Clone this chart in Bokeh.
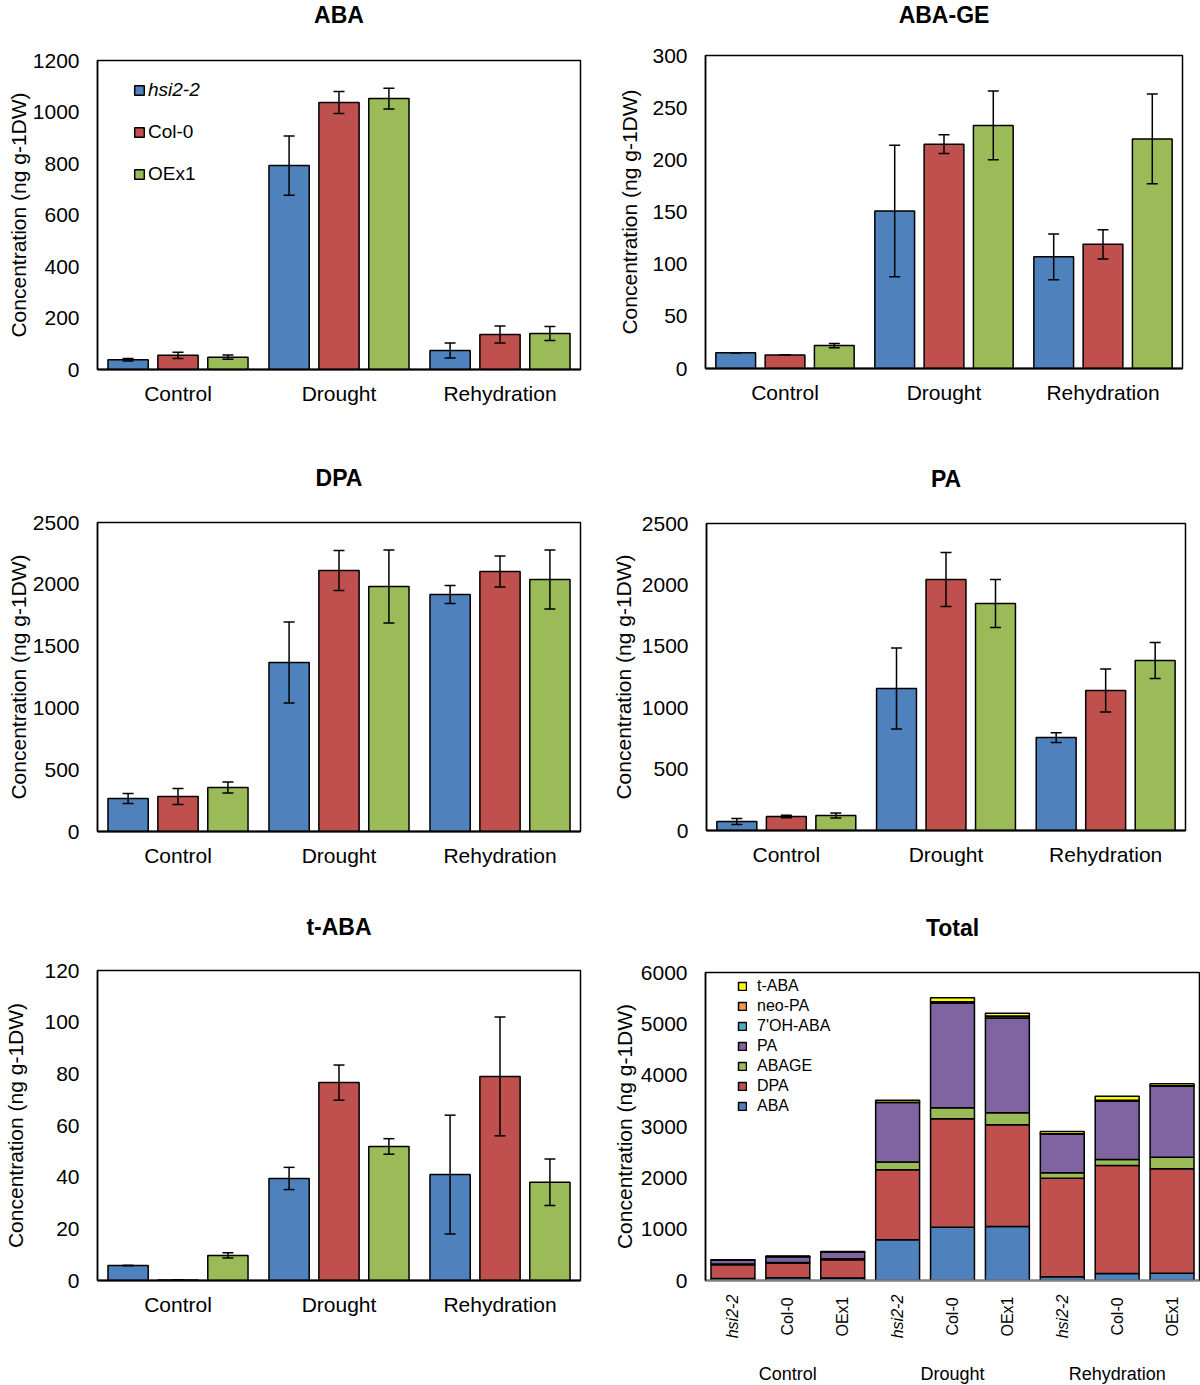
import math
from bokeh.plotting import figure
from bokeh.models import (ColumnDataSource, FactorRange, Range1d, Whisker, TeeHead,
                          Legend, LegendItem, FixedTicker)
from bokeh.transform import dodge
from bokeh.layouts import column, row
from bokeh.embed import file_html
from bokeh.resources import INLINE
from bokeh.core.properties import value

FONT = "Liberation Sans"
YLABEL = "Concentration (ng g-1DW)"

conditions = ["Control", "Drought", "Rehydration"]
genotypes = ["hsi2-2", "Col-0", "OEx1"]
genotype_colors = ["#4F81BD", "#C0504D", "#9BBB59"]

# ---- ABA ----
aba_hsi = [38, 792, 74]
aba_col = [55, 1037, 136]
aba_oex = [48, 1052, 140]
aba_hsi_err = [5, 115, 29]
aba_col_err = [12, 43, 33]
aba_oex_err = [8, 40, 27]
aba_ticks = [0, 200, 400, 600, 800, 1000, 1200]

# ---- ABA-GE ----
abage_hsi = [15, 151, 107]
abage_col = [13, 215, 119]
abage_oex = [22, 233, 220]
abage_hsi_err = [0, 63, 22]
abage_col_err = [0, 9, 14]
abage_oex_err = [2, 33, 43]
abage_ticks = [0, 50, 100, 150, 200, 250, 300]

# ---- DPA ----
dpa_hsi = [267, 1367, 1917]
dpa_col = [283, 2112, 2104]
dpa_oex = [356, 1982, 2039]
dpa_hsi_err = [40, 327, 73]
dpa_col_err = [65, 162, 125]
dpa_oex_err = [45, 295, 239]
dpa_ticks = [0, 500, 1000, 1500, 2000, 2500]

# ---- PA ----
pa_hsi = [73, 1156, 757]
pa_col = [114, 2044, 1140]
pa_oex = [122, 1849, 1384]
pa_hsi_err = [25, 330, 40]
pa_col_err = [10, 220, 175]
pa_oex_err = [20, 195, 147]
pa_ticks = [0, 500, 1000, 1500, 2000, 2500]

# ---- t-ABA ----
taba_hsi = [5.8, 39.5, 41]
taba_col = [0.2, 76.6, 79]
taba_oex = [9.7, 51.9, 38]
taba_hsi_err = [0, 4.3, 23]
taba_col_err = [0, 6.8, 23]
taba_oex_err = [1, 3, 9]
taba_ticks = [0, 20, 40, 60, 80, 100, 120]

# ---- minor metabolites shown only in the Total chart ----
ohaba_hsi = [3, 5, 3]
ohaba_col = [3, 12, 5]
ohaba_oex = [3, 30, 6]
neopa_hsi = [2, 3, 2]
neopa_col = [2, 10, 5]
neopa_oex = [2, 8, 4]
total_ticks = [0, 1000, 2000, 3000, 4000, 5000, 6000]

total_components = ["ABA", "DPA", "ABAGE", "PA", "7'OH-ABA", "neo-PA", "t-ABA"]
total_colors = ["#4F81BD", "#C0504D", "#9BBB59", "#8064A2", "#4BACC6", "#F79646", "#FFFF00"]

LW, RW = 608, 592
BT = 14  # top border of every plot (room for the top tick label)
ROW1, ROW2, ROW3 = 463, 449, 473


def blank_strip(w, h, bl, br, x_range=None):
    s = figure(width=w, height=h, x_range=x_range if x_range is not None else Range1d(0, 1),
               y_range=Range1d(0, h), output_backend="svg", toolbar_location=None,
               min_border_left=bl, min_border_right=br, min_border_top=0, min_border_bottom=0)
    s.axis.visible = False
    s.xgrid.visible = False
    s.ygrid.visible = False
    s.outline_line_color = None
    s.background_fill_color = "white"
    s.border_fill_color = "white"
    return s


def title_strip(text, w, h, bl, br, center_from_top):
    s = blank_strip(w, h, bl, br)
    s.text(x=[0.5], y=[h - center_from_top], text=[text], text_align="center",
           text_baseline="middle", text_font=value(FONT), text_font_size="23px",
           text_font_style="bold", text_color="black")
    return s


def style_common(p, ticks, ylabel_standoff):
    p.xgrid.visible = False
    p.ygrid.visible = False
    p.outline_line_color = "black"
    p.outline_line_width = 1.5
    p.outline_line_alpha = 1
    p.background_fill_color = "white"
    p.border_fill_color = "white"
    ya = p.yaxis[0]
    ya.ticker = FixedTicker(ticks=ticks)
    ya.major_tick_out = 0
    ya.major_tick_in = 0
    ya.minor_tick_out = 0
    ya.minor_tick_in = 0
    ya.axis_line_color = "black"
    ya.axis_line_width = 1.5
    ya.major_label_text_font = FONT
    ya.major_label_text_font_size = "21px"
    ya.major_label_text_color = "black"
    ya.major_label_standoff = 18
    ya.axis_label_text_font = FONT
    ya.axis_label_text_font_size = "21px"
    ya.axis_label_text_font_style = "normal"
    ya.axis_label_text_color = "black"
    ya.axis_label_standoff = ylabel_standoff


def make_panel(means, errs, ticks, w, h, bl, br, bb, ylabel_standoff):
    p = figure(width=w, height=h, x_range=FactorRange(factors=conditions),
               y_range=Range1d(0, ticks[-1]), output_backend="svg", toolbar_location=None,
               min_border_left=bl, min_border_right=br, min_border_top=BT, min_border_bottom=bb,
               y_axis_label=YLABEL)
    style_common(p, ticks, ylabel_standoff)
    xa = p.xaxis[0]
    xa.major_tick_out = 0
    xa.major_tick_in = 0
    xa.axis_line_color = "black"
    xa.axis_line_width = 2
    xa.major_label_text_font = FONT
    xa.major_label_text_font_size = "21px"
    xa.major_label_text_color = "black"
    xa.major_label_standoff = 12

    renderers = []
    for gi, (g, col) in enumerate(zip(genotypes, genotype_colors)):
        m = means[gi]
        e = errs[gi]
        src = ColumnDataSource(dict(
            cond=conditions, top=m,
            upper=[a + b for a, b in zip(m, e)],
            lower=[a - b for a, b in zip(m, e)]))
        off = (gi - 1) * 0.31
        r = p.vbar(x=dodge("cond", off, range=p.x_range), top="top", width=0.25, source=src,
                   fill_color=col, line_color="black", line_width=1.5)
        renderers.append(r)
        wsk = Whisker(base=dodge("cond", off, range=p.x_range), upper="upper", lower="lower",
                      source=src, level="annotation", line_color="black", line_width=1.5,
                      upper_head=TeeHead(size=11, line_width=1.5, line_color="black"),
                      lower_head=TeeHead(size=11, line_width=1.5, line_color="black"))
        p.add_layout(wsk)
    return p, renderers


# ================= Row 1 =================
s1 = title_strip("ABA", LW, 46, 97, 28, 14)
p1, r1 = make_panel([aba_hsi, aba_col, aba_oex], [aba_hsi_err, aba_col_err, aba_oex_err],
                    aba_ticks, LW, ROW1 - 46, 97, 28, 94, 0)
fh1 = ROW1 - 46 - BT - 94
leg_a = Legend(items=[LegendItem(label=genotypes[0], renderers=[r1[0]])],
               location=(36, fh1 - 42), padding=0, margin=0, border_line_color=None,
               background_fill_alpha=0, glyph_width=12, glyph_height=12, label_height=24,
               label_standoff=3, label_text_font=FONT, label_text_font_size="19px",
               label_text_font_style="italic", label_text_color="black")
leg_b = Legend(items=[LegendItem(label=genotypes[1], renderers=[r1[1]]),
                      LegendItem(label=genotypes[2], renderers=[r1[2]])],
               location=(36, fh1 - 126), padding=0, margin=0, border_line_color=None,
               background_fill_alpha=0, glyph_width=12, glyph_height=12, label_height=24,
               spacing=18, label_standoff=3, label_text_font=FONT, label_text_font_size="19px",
               label_text_color="black")
p1.add_layout(leg_a, "center")
p1.add_layout(leg_b, "center")

s2 = title_strip("ABA-GE", RW, 41, 97, 18, 14)
p2, _ = make_panel([abage_hsi, abage_col, abage_oex],
                   [abage_hsi_err, abage_col_err, abage_oex_err],
                   abage_ticks, RW, ROW1 - 41, 97, 18, 95, 8)

# ================= Row 2 =================
s3 = title_strip("DPA", LW, 45, 97, 28, 14)
p3, _ = make_panel([dpa_hsi, dpa_col, dpa_oex], [dpa_hsi_err, dpa_col_err, dpa_oex_err],
                   dpa_ticks, LW, ROW2 - 45, 97, 28, ROW2 - 45 - BT - 309, 0)

s4 = title_strip("PA", RW, 46, 97, 15, 15)
p4, _ = make_panel([pa_hsi, pa_col, pa_oex], [pa_hsi_err, pa_col_err, pa_oex_err],
                   pa_ticks, RW, ROW2 - 46, 97, 15, ROW2 - 46 - BT - 307, 4)

# ================= Row 3 =================
s5 = title_strip("t-ABA", LW, 44, 97, 28, 14)
p5, _ = make_panel([taba_hsi, taba_col, taba_oex],
                   [taba_hsi_err, taba_col_err, taba_oex_err],
                   taba_ticks, LW, ROW3 - 44, 97, 28, ROW3 - 44 - BT - 310, 14)

# ---------- Total (stacked) ----------
samples = [(c, g) for c in conditions for g in genotypes]
xs = [i + 0.5 for i in range(len(samples))]


def flat(a, b, c):
    return [v for trip in zip(a, b, c) for v in trip]


total_data = dict(x=xs)
total_data["ABA"] = flat(aba_hsi, aba_col, aba_oex)
total_data["DPA"] = flat(dpa_hsi, dpa_col, dpa_oex)
total_data["ABAGE"] = flat(abage_hsi, abage_col, abage_oex)
total_data["PA"] = flat(pa_hsi, pa_col, pa_oex)
total_data["7'OH-ABA"] = flat(ohaba_hsi, ohaba_col, ohaba_oex)
total_data["neo-PA"] = flat(neopa_hsi, neopa_col, neopa_oex)
total_data["t-ABA"] = flat(taba_hsi, taba_col, taba_oex)
tsrc = ColumnDataSource(total_data)

TS, TFH, TBB, TBL, TBR = 46, 308, 12, 97, 1
TH = BT + TFH + TBB
xr_total = Range1d(0, len(samples))
s6 = title_strip("Total", RW, TS, TBL, TBR, 15)
p6 = figure(width=RW, height=TH, x_range=xr_total, y_range=Range1d(0, total_ticks[-1]),
            output_backend="svg", toolbar_location=None, min_border_left=TBL, min_border_right=TBR,
            min_border_top=BT, min_border_bottom=TBB, y_axis_label=YLABEL)
style_common(p6, total_ticks, 2)
xa6 = p6.xaxis[0]
xa6.ticker = FixedTicker(ticks=[])
xa6.major_tick_out = 0
xa6.major_tick_in = 0
xa6.minor_tick_out = 0
xa6.minor_tick_in = 0
xa6.major_label_text_font_size = "0px"
xa6.major_label_standoff = 0
xa6.axis_line_color = "#808080"
xa6.axis_line_width = 2

stack_r = p6.vbar_stack(total_components, x="x", width=0.8, source=tsrc,
                        fill_color=total_colors, line_color="black", line_width=1.5)
leg_items = [LegendItem(label=name, renderers=[r]) for name, r in zip(total_components, stack_r)][::-1]
leg_t = Legend(items=leg_items, location=(32, TFH - 143), padding=0, margin=0,
               border_line_color=None, background_fill_alpha=0, glyph_width=10, glyph_height=10,
               label_height=16, spacing=2, label_standoff=10, label_text_font=FONT,
               label_text_font_size="16px", label_text_color="black")
p6.add_layout(leg_t, "center")

# ---------- x labels of the Total chart (strip sharing the x range) ----------
LH = ROW3 - TS - TH
plab = blank_strip(RW, LH, TBL, TBR, x_range=xr_total)
lab_src_it = ColumnDataSource(dict(x=[xv for (c, g), xv in zip(samples, xs) if g == "hsi2-2"],
                                   t=[g for (c, g) in samples if g == "hsi2-2"]))
lab_src_n = ColumnDataSource(dict(x=[xv for (c, g), xv in zip(samples, xs) if g != "hsi2-2"],
                                  t=[g for (c, g) in samples if g != "hsi2-2"]))
plab.text(x="x", y=LH - 24, text="t", source=lab_src_it, angle=math.pi / 2,
          text_align="center", text_baseline="middle", text_font=value(FONT),
          text_font_size="16px", text_font_style="italic", text_color="black")
plab.text(x="x", y=LH - 24, text="t", source=lab_src_n, angle=math.pi / 2,
          text_align="center", text_baseline="middle", text_font=value(FONT),
          text_font_size="16px", text_color="black")
grp_src = ColumnDataSource(dict(x=[xs[ci * len(genotypes) + 1] for ci in range(len(conditions))],
                                t=conditions))
plab.text(x="x", y=LH - 81, text="t", source=grp_src, text_align="center",
          text_baseline="middle", text_font=value(FONT), text_font_size="18px",
          text_color="black")

layout = column(
    row(column(s1, p1), column(s2, p2)),
    row(column(s3, p3), column(s4, p4)),
    row(column(s5, p5), column(s6, p6, plab)),
)
open("out.html", "w").write(file_html(layout, INLINE))
